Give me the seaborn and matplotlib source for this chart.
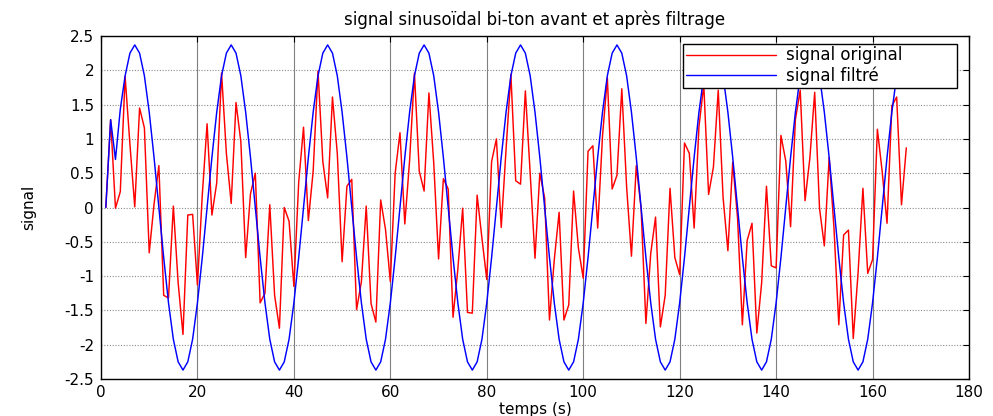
import matplotlib
matplotlib.use("Agg")
import matplotlib.pyplot as plt
import seaborn as sns
import pandas as pd

# ---------------- data ----------------
temps = list(range(1, 168))

signal_original = [
    0.00, 1.28, -0.01, 0.23, 1.91, 0.92, 0.01, 1.45, 1.16, -0.66,
    0.05, 0.61, -1.28, -1.32, 0.02, -1.10, -1.85, -0.11, -0.10, -1.13,
    0.18, 1.22, -0.11, 0.36, 1.96, 0.79, 0.06, 1.53, 0.96, -0.73,
    0.20, 0.50, -1.39, -1.25, 0.04, -1.28, -1.76, 0.00, -0.20, -1.15,
    0.37, 1.17, -0.19, 0.53, 1.99, 0.67, 0.14, 1.61, 0.79, -0.79,
    0.31, 0.41, -1.49, -1.08, 0.02, -1.40, -1.67, 0.11, -0.32, -1.08,
    0.50, 1.09, -0.24, 0.69, 1.96, 0.53, 0.24, 1.67, 0.65, -0.75,
    0.42, 0.27, -1.60, -0.90, -0.01, -1.53, -1.54, 0.18, -0.45, -1.05,
    0.67, 1.00, -0.29, 0.85, 1.94, 0.39, 0.34, 1.70, 0.50, -0.74,
    0.50, 0.14, -1.64, -0.76, -0.07, -1.64, -1.42, 0.24, -0.59, -1.03,
    0.82, 0.90, -0.30, 1.04, 1.89, 0.27, 0.47, 1.73, 0.30, -0.71,
    0.61, -0.01, -1.69, -0.67, -0.14, -1.74, -1.28, 0.28, -0.73, -0.98,
    0.94, 0.79, -0.30, 1.18, 1.79, 0.19, 0.59, 1.71, 0.15, -0.63,
    0.66, -0.15, -1.71, -0.48, -0.23, -1.83, -1.10, 0.31, -0.85, -0.88,
    1.05, 0.68, -0.28, 1.28, 1.71, 0.10, 0.72, 1.68, -0.01, -0.56,
    0.73, -0.30, -1.71, -0.40, -0.33, -1.91, -0.95, 0.28, -0.96, -0.76,
    1.14, 0.52, -0.23, 1.48, 1.61, 0.04, 0.87,
]

signal_filtre = [
    0.00, 1.28, 0.70, 1.43, 1.92, 2.25, 2.37, 2.25, 1.92, 1.39,
    0.73, 0.00, -0.73, -1.39, -1.92, -2.25, -2.37, -2.25, -1.92, -1.39,
    -0.73, 0.00, 0.73, 1.39, 1.92, 2.25, 2.37, 2.25, 1.92, 1.39,
    0.73, 0.00, -0.73, -1.39, -1.92, -2.25, -2.37, -2.25, -1.92, -1.39,
    -0.73, 0.00, 0.73, 1.39, 1.92, 2.25, 2.37, 2.25, 1.92, 1.39,
    0.73, 0.00, -0.73, -1.39, -1.92, -2.25, -2.37, -2.25, -1.92, -1.39,
    -0.73, 0.00, 0.73, 1.39, 1.92, 2.25, 2.37, 2.25, 1.92, 1.39,
    0.73, 0.00, -0.73, -1.39, -1.92, -2.25, -2.37, -2.25, -1.92, -1.39,
    -0.73, 0.00, 0.73, 1.39, 1.92, 2.25, 2.37, 2.25, 1.92, 1.39,
    0.73, 0.00, -0.73, -1.39, -1.92, -2.25, -2.37, -2.25, -1.92, -1.39,
    -0.73, 0.00, 0.73, 1.39, 1.92, 2.25, 2.37, 2.25, 1.92, 1.39,
    0.73, 0.00, -0.73, -1.39, -1.92, -2.25, -2.37, -2.25, -1.92, -1.39,
    -0.73, 0.00, 0.73, 1.39, 1.92, 2.25, 2.37, 2.25, 1.92, 1.39,
    0.73, 0.00, -0.73, -1.39, -1.92, -2.25, -2.37, -2.25, -1.92, -1.39,
    -0.73, 0.00, 0.73, 1.39, 1.92, 2.25, 2.37, 2.25, 1.92, 1.39,
    0.73, 0.00, -0.73, -1.39, -1.92, -2.25, -2.37, -2.25, -1.92, -1.39,
    -0.73, 0.00, 0.73, 1.39, 1.92, 2.25, 2.37,
]

series_labels = ["signal original", "signal filtré"]
series_colors = ["#ff0000", "#0000ff"]
x_ticks = [0, 20, 40, 60, 80, 100, 120, 140, 160, 180]
y_ticks = [-2.5, -2, -1.5, -1, -0.5, 0, 0.5, 1, 1.5, 2, 2.5]
y_tick_labels = ["-2.5", "-2", "-1.5", "-1", "-0.5", "0", "0.5", "1", "1.5", "2", "2.5"]
title_text = "signal sinusoïdal bi-ton avant et après filtrage"
xlabel_text = "temps (s)"
ylabel_text = "signal"

# ---------------- style ----------------
sns.set_style("white")
plt.rcParams["font.family"] = ["DejaVu Sans"]
plt.rcParams["text.color"] = "black"
plt.rcParams["axes.labelcolor"] = "black"
plt.rcParams["xtick.color"] = "black"
plt.rcParams["ytick.color"] = "black"
FS = 11

W, H = 993, 416
fig = plt.figure(figsize=(W / 100, H / 100), dpi=100)
left, right, top, bottom = 101, 969, 36, 379
ax = fig.add_axes([left / W, 1 - bottom / H, (right - left) / W, (bottom - top) / H])

df = pd.DataFrame({
    "temps": temps + temps,
    "valeur": signal_original + signal_filtre,
    "serie": [series_labels[0]] * len(temps) + [series_labels[1]] * len(temps),
})
sns.lineplot(data=df, x="temps", y="valeur", hue="serie",
             hue_order=series_labels,
             palette=dict(zip(series_labels, series_colors)),
             estimator=None, sort=False, linewidth=1.05, ax=ax)

ax.set_xlim(0, 180)
ax.set_ylim(-2.5, 2.5)
ax.set_xticks(x_ticks)
ax.set_xticklabels([str(v) for v in x_ticks])
ax.set_yticks(y_ticks)
ax.set_yticklabels(y_tick_labels)
ax.tick_params(direction="in", length=4, width=0.8, top=True, right=True,
               labelsize=FS, colors="black", labelcolor="black", pad=5)
ax.tick_params(axis="x", pad=4)

ax.xaxis.grid(True, color="#808080", linewidth=0.8, linestyle="-")
ax.yaxis.grid(True, color="#8a8a8a", linewidth=0.8, linestyle=(0, (1, 1.5)))
ax.set_axisbelow(True)
for s in ax.spines.values():
    s.set_color("black")
    s.set_linewidth(1.0)

ax.set_title(title_text, fontsize=12, pad=8, color="black")
ax.set_xlabel(xlabel_text, fontsize=FS, labelpad=2, color="black")
ax.set_ylabel(ylabel_text, fontsize=FS, color="black")
ax.yaxis.set_label_coords((36 - left) / (right - left), 0.5)

handles, labels = ax.get_legend_handles_labels()
leg_x0, leg_y0, leg_x1, leg_y1 = 683, 44, 957, 85
LFS = 12
leg = ax.legend(handles, labels, loc="upper left",
                bbox_to_anchor=(leg_x0 / W, 1 - leg_y1 / H, (leg_x1 - leg_x0) / W, (leg_y1 - leg_y0) / H),
                bbox_transform=fig.transFigure, mode="expand",
                frameon=True, fancybox=False, framealpha=1, edgecolor="black",
                borderaxespad=0, borderpad=0.15, labelspacing=0.12,
                handlelength=5.4, handletextpad=0.65, fontsize=LFS)
leg.get_frame().set_linewidth(1.0)
for line in leg.get_lines():
    line.set_linewidth(1.0)
for t in leg.get_texts():
    t.set_color("black")

fig.savefig("out.png", dpi=100)
